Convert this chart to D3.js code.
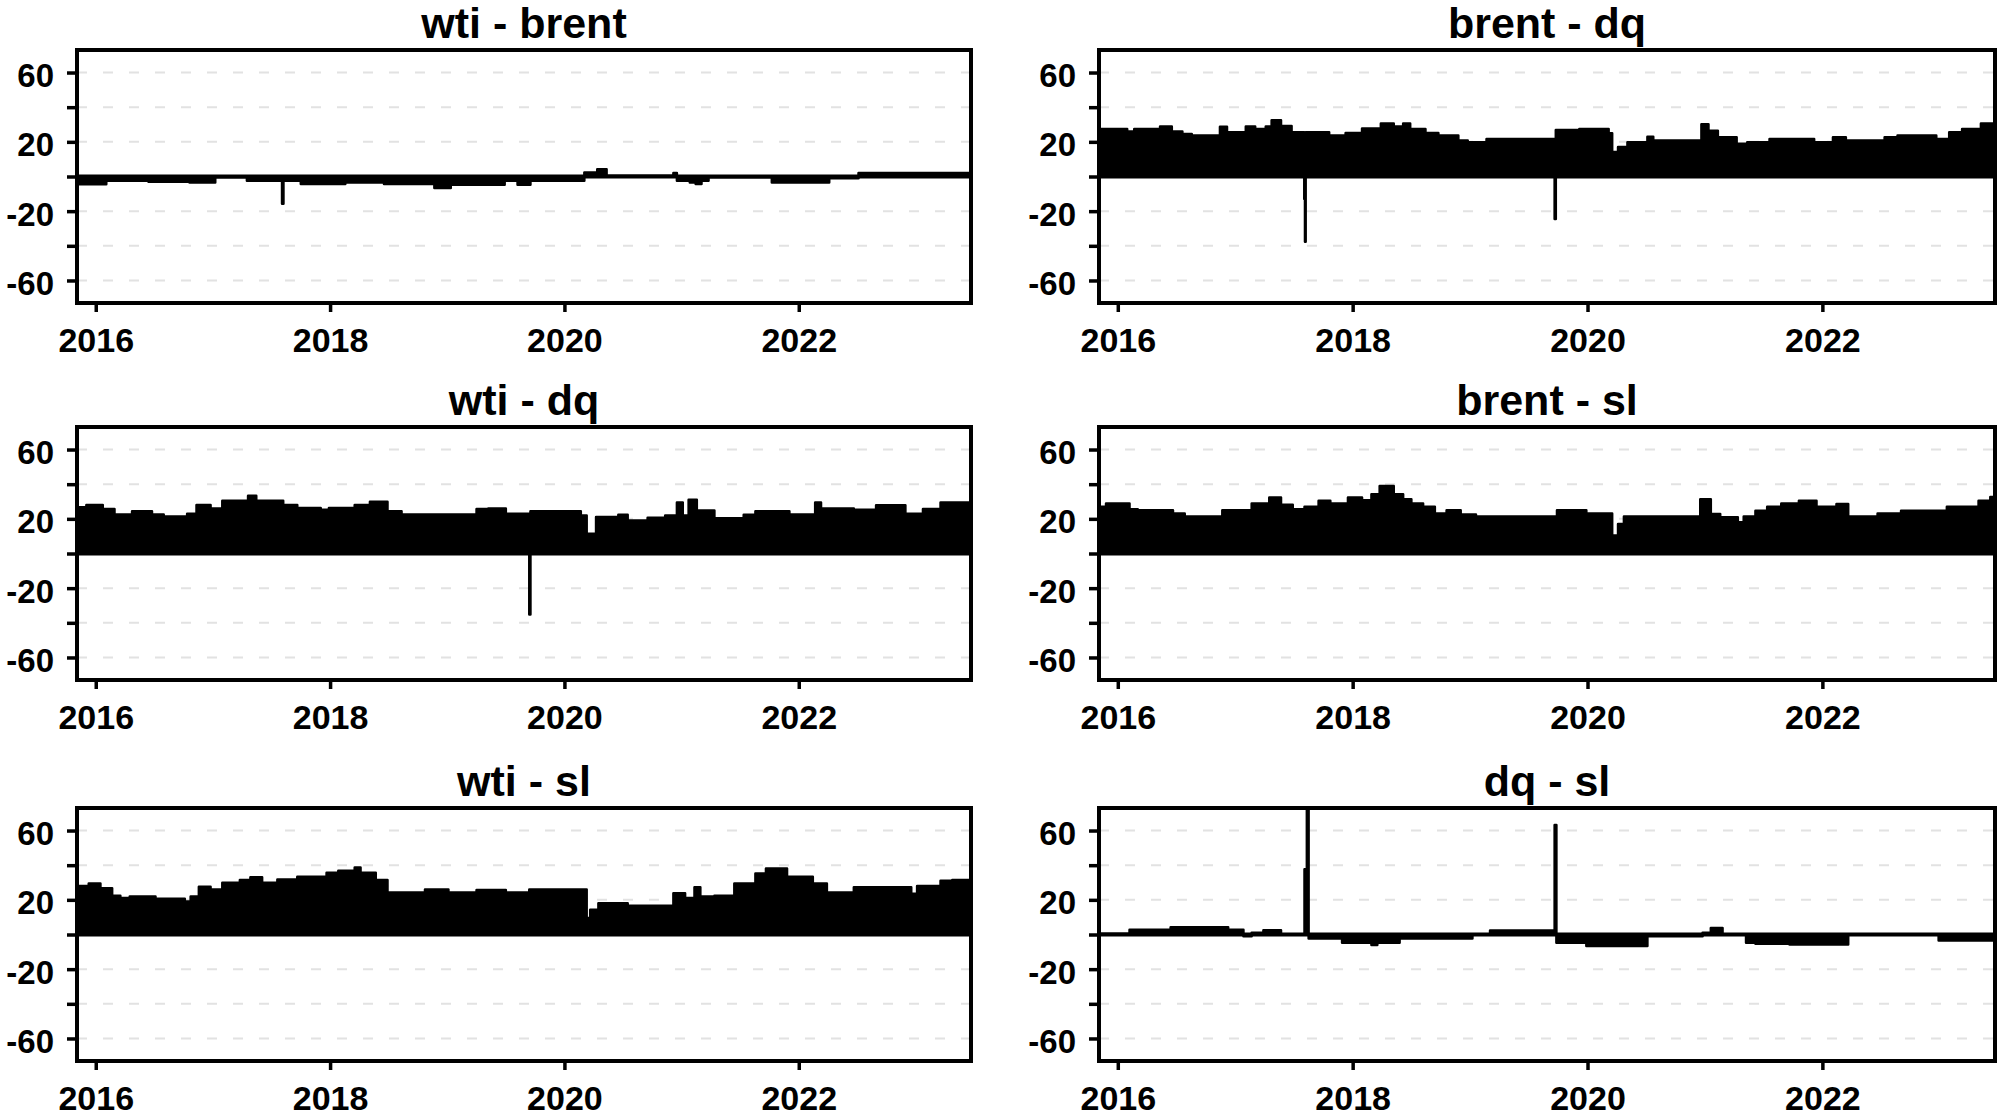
<!DOCTYPE html>
<html>
<head>
<meta charset="utf-8">
<script src="https://cdn.jsdelivr.net/npm/d3@7"></script>
<style>
  html, body { margin: 0; padding: 0; background: #fff; }
  svg { display: block; }
  text { font-family: "Liberation Sans", Arial, Helvetica, sans-serif; font-weight: bold; fill: #000; }
</style>
</head>
<body>
<svg id="chart" width="2000" height="1116"></svg>
<script>
// ---------------- DATA ----------------
const panelTitles = ["wti - brent", "brent - dq", "wti - dq", "brent - sl", "wti - sl", "dq - sl"];
const yTicks = [-60, -40, -20, 0, 20, 40, 60];
const yTickLabels = [-60, -20, 20, 60];
const yGridLines = [-60, -40, -20, 20, 40, 60];
const xTickYears = [2016, 2018, 2020, 2022];
const xDomain = [2015.84, 2023.47];
const yDomain = [-73, 73];

// each series: breakpoint dates (decimal year) and spread values (step-wise)
const wtiBrentT = [2015.84, 2016.09, 2016.45, 2016.80, 2017.02, 2017.29, 2017.59, 2017.602, 2017.75, 2018.13, 2018.46, 2018.89, 2019.03, 2019.49, 2019.60, 2019.71, 2020.17, 2020.28, 2020.36, 2020.93, 2020.96, 2021.07, 2021.12, 2021.17, 2021.23, 2021.77, 2022.26, 2022.51];
const wtiBrentV = [-4.5, -2.5, -3, -3.4, -0.5, -2.5, -15.7, -2.5, -4.3, -3.4, -4.3, -6.6, -4.7, -2.5, -4.7, -2.5, 2.3, 4.2, 0.5, 2, -2.5, -3.4, -4.3, -2.5, -0.5, -3.4, -1, 2];

const brentDqT = [2015.84, 2016.08, 2016.14, 2016.36, 2016.46, 2016.55, 2016.63, 2016.87, 2016.93, 2017.09, 2017.17, 2017.26, 2017.31, 2017.39, 2017.48, 2017.588, 2017.594, 2017.600, 2017.80, 2017.94, 2018.08, 2018.24, 2018.35, 2018.43, 2018.49, 2018.62, 2018.73, 2018.90, 2018.98, 2019.14, 2019.72, 2019.730, 2019.93, 2020.18, 2020.21, 2020.26, 2020.34, 2020.51, 2020.56, 2020.97, 2021.03, 2021.11, 2021.27, 2021.36, 2021.55, 2021.93, 2022.09, 2022.20, 2022.53, 2022.64, 2022.97, 2023.08, 2023.19, 2023.35];
const brentDqV = [27.4, 26, 27.4, 28.9, 26, 24.5, 23.6, 28.7, 25.5, 28.9, 27.4, 28.9, 32.5, 29.2, 25.5, -13, -37.7, 25.5, 23.6, 25.1, 27.7, 30.6, 28.9, 30.6, 27.4, 25.1, 23.6, 20.8, 19.8, 21.7, -24.5, 26.8, 27.4, 24.9, 14.2, 17, 19.8, 23, 20.8, 30.2, 26.4, 22.6, 18.9, 19.8, 21.7, 19.8, 22.6, 20.8, 22.6, 23.6, 21.7, 25.5, 27.4, 30.6];

const wtiDqT = [2015.84, 2015.92, 2016.06, 2016.16, 2016.31, 2016.48, 2016.58, 2016.78, 2016.86, 2016.98, 2017.08, 2017.30, 2017.37, 2017.60, 2017.72, 2017.92, 2017.99, 2018.21, 2018.34, 2018.49, 2018.61, 2019.25, 2019.35, 2019.50, 2019.70, 2019.710, 2020.14, 2020.19, 2020.27, 2020.46, 2020.54, 2020.71, 2020.86, 2020.96, 2021.01, 2021.06, 2021.13, 2021.28, 2021.53, 2021.63, 2021.92, 2022.14, 2022.19, 2022.47, 2022.66, 2022.91, 2023.06, 2023.21];
const wtiDqV = [26.7, 28, 25.7, 22.5, 24.4, 22.5, 21.3, 22.9, 28, 26, 30.5, 33.3, 30.5, 28, 26.3, 25.3, 26.3, 28, 29.9, 24.4, 22.5, 25.7, 26, 22.9, -35.2, 24.4, 21.9, 11.4, 21, 22.3, 19, 20.6, 21.9, 29.5, 21.9, 31, 24.8, 20.4, 22.3, 24.4, 22.5, 29.5, 26, 25.3, 27.8, 22.9, 25.7, 29.5];

const brentSlT = [2015.84, 2015.90, 2016.10, 2016.17, 2016.47, 2016.57, 2016.89, 2017.14, 2017.29, 2017.39, 2017.49, 2017.59, 2017.71, 2017.81, 2017.96, 2018.08, 2018.16, 2018.23, 2018.35, 2018.43, 2018.50, 2018.60, 2018.70, 2018.80, 2018.92, 2019.05, 2019.74, 2019.99, 2020.21, 2020.26, 2020.31, 2020.96, 2021.05, 2021.13, 2021.28, 2021.33, 2021.43, 2021.53, 2021.65, 2021.80, 2021.95, 2022.12, 2022.22, 2022.47, 2022.67, 2023.06, 2023.33, 2023.43];
const brentSlV = [27, 28.8, 25.6, 25, 23.1, 21.3, 25, 28.8, 32.3, 28.1, 25.6, 27, 30.4, 28.8, 32.3, 30.7, 34.2, 38.9, 34.2, 31.3, 28.8, 27, 23.1, 25, 22.5, 21.3, 25, 23.1, 10.4, 17, 21.3, 31.3, 22.8, 20.9, 18, 21.3, 24.7, 27, 28.8, 30.4, 27, 28.5, 21.3, 23.1, 24.7, 27, 30.4, 32.6];

const wtiSlT = [2015.84, 2015.94, 2016.04, 2016.14, 2016.21, 2016.29, 2016.51, 2016.76, 2016.81, 2016.88, 2016.98, 2017.08, 2017.23, 2017.32, 2017.42, 2017.55, 2017.72, 2017.97, 2018.07, 2018.21, 2018.26, 2018.39, 2018.49, 2018.81, 2019.01, 2019.25, 2019.50, 2019.70, 2020.19, 2020.22, 2020.29, 2020.54, 2020.93, 2021.03, 2021.11, 2021.16, 2021.28, 2021.45, 2021.63, 2021.72, 2021.90, 2022.12, 2022.24, 2022.47, 2022.96, 2023.01, 2023.21, 2023.31];
const wtiSlV = [28, 29.5, 26.7, 22.3, 21, 21.9, 20.6, 19, 21.9, 27.6, 26, 29.9, 31.4, 33, 29.9, 31.8, 33.3, 35.6, 36.8, 38.7, 35.6, 31.4, 24.2, 26, 24.2, 25.7, 24.2, 26, 9.5, 14.3, 18.1, 16.6, 23.8, 21, 27.2, 21.9, 22.3, 29.5, 35.2, 38.1, 33.3, 29.5, 24.2, 27.2, 23.5, 28, 31, 31.4];

const dqSlT = [2015.84, 2016.10, 2016.45, 2016.94, 2017.07, 2017.14, 2017.24, 2017.39, 2017.59, 2017.61, 2017.625, 2017.91, 2018.16, 2018.21, 2018.40, 2019.02, 2019.17, 2019.72, 2019.735, 2019.99, 2020.51, 2020.98, 2021.05, 2021.15, 2021.35, 2021.43, 2021.72, 2022.22, 2022.99];
const dqSlV = [0.5, 2.8, 4.2, 2.8, -1, 1, 2.5, 0, 37.7, 80, -2.3, -4.7, -6, -4.7, -2.3, 0, 2.3, 63.2, -4.7, -6.6, -1, 1, 3.8, 0, -4.7, -5.3, -5.7, 0, -3.4];

const seriesT = [wtiBrentT, brentDqT, wtiDqT, brentSlT, wtiSlT, dqSlT];
const seriesV = [wtiBrentV, brentDqV, wtiDqV, brentSlV, wtiSlV, dqSlV];

// ---------------- LAYOUT ----------------
const colX = [77, 1099];
const colW = [894, 896];
const rowY = [50, 427, 808];
const panelH = 253;

const svg = d3.select("#chart");

panelTitles.forEach((title, i) => {
  const col = i % 2, row = Math.floor(i / 2);
  const x0 = colX[col], y0 = rowY[row], w = colW[col], h = panelH;
  const g = svg.append("g").attr("transform", `translate(${x0},${y0})`);

  const x = d3.scaleLinear().domain(xDomain).range([0, w]);
  const y = d3.scaleLinear().domain(yDomain).range([h, 0]);

  // gridlines
  g.append("g").selectAll("line").data(yGridLines).join("line")
    .attr("x1", 0).attr("x2", w)
    .attr("y1", d => y(d)).attr("y2", d => y(d))
    .attr("stroke", "#e2e2e2").attr("stroke-width", 2)
    .attr("stroke-dasharray", "10,16");

  // clip
  const clipId = "clip" + i;
  g.append("clipPath").attr("id", clipId)
    .append("rect").attr("x", 0).attr("y", 0).attr("width", w).attr("height", h);

  const pts = seriesT[i].map((t, k) => [t, seriesV[i][k]]);
  pts.push([xDomain[1], seriesV[i][seriesV[i].length - 1]]);

  const area = d3.area()
    .x(d => x(d[0]))
    .y0(y(0))
    .y1(d => y(d[1]))
    .curve(d3.curveStepAfter);

  const pg = g.append("g").attr("clip-path", `url(#${clipId})`);
  pg.append("path").datum(pts)
    .attr("d", area)
    .attr("fill", "#000")
    .attr("stroke", "#000")
    .attr("stroke-width", 2.5)
    .attr("stroke-linejoin", "round");
  pg.append("line")
    .attr("x1", 0).attr("x2", w)
    .attr("y1", y(0)).attr("y2", y(0))
    .attr("stroke", "#000").attr("stroke-width", 4);

  // y axis
  const yAxis = d3.axisLeft(y).tickValues(yTicks)
    .tickFormat(d => yTickLabels.includes(d) ? String(d) : "")
    .tickSize(10).tickPadding(13);
  const ya = g.append("g").call(yAxis);
  ya.select(".domain").remove();
  ya.selectAll(".tick line").attr("stroke", "#000").attr("stroke-width", 3.5);
  ya.selectAll(".tick text").attr("font-size", 33).attr("dy", "0.42em")
    .attr("font-family", "'Liberation Sans', Arial, sans-serif").attr("font-weight", "bold");

  // x axis
  const xAxis = d3.axisBottom(x).tickValues(xTickYears)
    .tickFormat(d => String(d)).tickSize(9).tickPadding(16);
  const xa = g.append("g").attr("transform", `translate(0,${h})`).call(xAxis);
  xa.select(".domain").remove();
  xa.selectAll(".tick line").attr("stroke", "#000").attr("stroke-width", 3.5);
  xa.selectAll(".tick text").attr("font-size", 34)
    .attr("font-family", "'Liberation Sans', Arial, sans-serif").attr("font-weight", "bold");

  // frame
  g.append("rect").attr("x", 0).attr("y", 0).attr("width", w).attr("height", h)
    .attr("fill", "none").attr("stroke", "#000").attr("stroke-width", 4);

  // title
  g.append("text").attr("x", w / 2).attr("y", -12)
    .attr("text-anchor", "middle").attr("font-size", 43)
    .text(title);
});
</script>
</body>
</html>
